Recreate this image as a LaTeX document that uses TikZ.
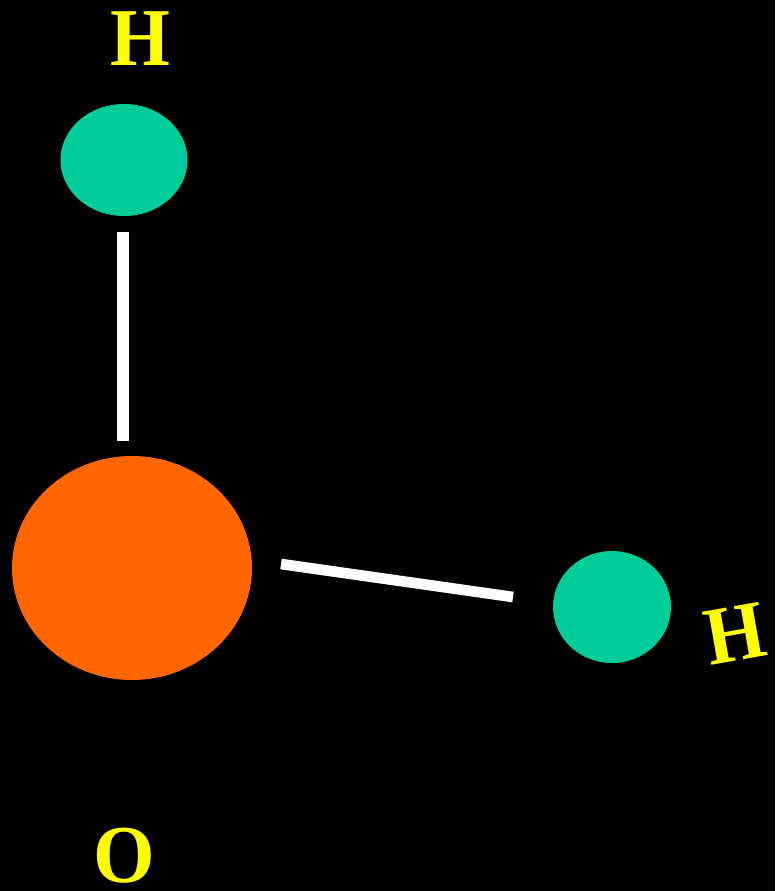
\documentclass[tikz,border=0pt]{standalone}
\usepackage{fontspec}
\setmainfont{Liberation Serif}
\usetikzlibrary{shapes.geometric}
\definecolor{atomH}{RGB}{0,204,153}
\definecolor{atomO}{RGB}{255,102,0}
\definecolor{lab}{RGB}{255,255,0}
\tikzset{
  atomshape/.style={ellipse,inner sep=0pt,fill=#1},
  bondline/.style={draw=white},
  atomlabel/.style={text=lab,font=\bfseries\fontsize{56}{56}\selectfont,inner sep=0pt},
}
\begin{document}
\begin{tikzpicture}[x=0.75pt,y=-0.75pt]
\path[fill=black,use as bounding box] (0,0) rectangle (775,891);
\node[atomshape=atomH,minimum width=95.25pt,minimum height=84pt] (h1) at (124,160) {};
\node[atomshape=atomO,minimum width=180pt,minimum height=168pt] (o) at (132,568) {};
\node[atomshape=atomH,minimum width=88.5pt,minimum height=84pt] (h2) at (612,607) {};
\coordinate (b1a) at (123,232);
\coordinate (b1b) at (123,441);
\coordinate (b2a) at (281,564);
\coordinate (b2b) at (513,597);
\draw[bondline,line width=8.5pt] (b1a) -- (b1b);
\draw[bondline,line width=8pt] (b2a) -- (b2b);
\node[atomlabel,xscale=1.03,yscale=1.1] (lh1) at (140,39) {H};
\node[atomlabel,rotate=10,xscale=1.03,yscale=1.1] (lh2) at (735,634) {H};
\node[atomlabel,xscale=1.06,yscale=1.1] (lo) at (124,856) {O};
\end{tikzpicture}
\end{document}
